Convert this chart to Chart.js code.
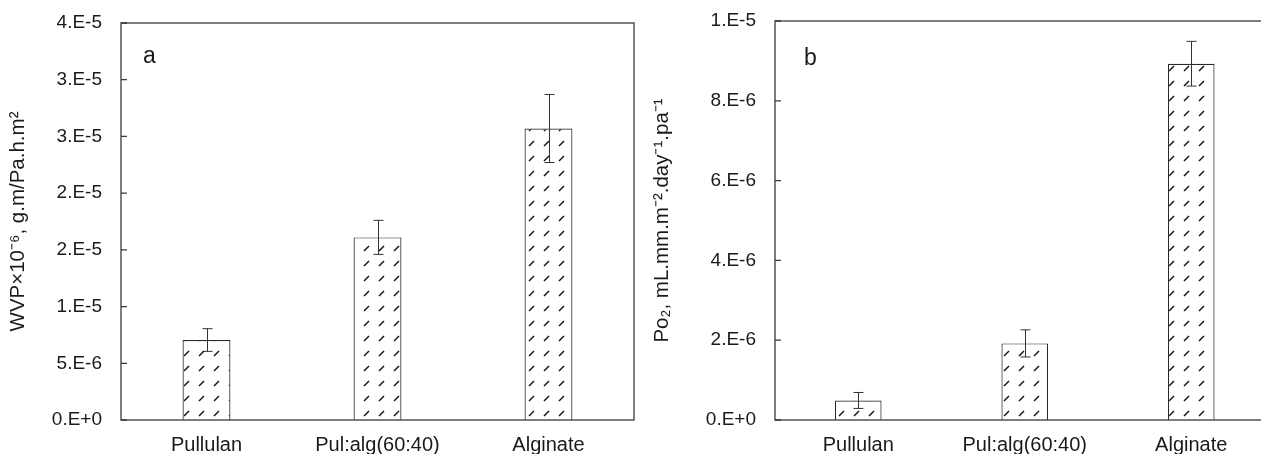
<!DOCTYPE html>
<html>
<head>
<meta charset="utf-8">
<script src="https://cdn.jsdelivr.net/npm/chart.js@4.4.1/dist/chart.umd.min.js"></script>
<style>
  html, body { margin: 0; padding: 0; background: #fff; overflow: hidden; width: 1261px; height: 454px; }
  .panel { position: absolute; top: 0; height: 454px; }
  #wrapA { left: 0; width: 640px; }
  #wrapB { left: 640px; width: 640px; }
</style>
</head>
<body>
<div class="panel" id="wrapA"><canvas id="chartA"></canvas></div>
<div class="panel" id="wrapB"><canvas id="chartB"></canvas></div>
<script>
// data
const films = ["Pullulan", "Pul:alg(60:40)", "Alginate"];

// a: WVP
const wvp = [7.05e-6, 16.1e-6, 25.7e-6];
const wvpErr = [1.0e-6, 1.5e-6, 3.0e-6];
const wvpTickLabels = ["0.E+0", "5.E-6", "1.E-5", "2.E-5", "2.E-5", "3.E-5", "3.E-5", "4.E-5"];

// b: Po2
const po2 = [0.49e-6, 1.92e-6, 8.93e-6];
const po2Err = [0.2e-6, 0.34e-6, 0.56e-6];
const po2TickLabels = ["0.E+0", "2.E-6", "4.E-6", "6.E-6", "8.E-6", "1.E-5"];

Chart.defaults.font.family = "'Liberation Sans', Arial, sans-serif";
Chart.defaults.color = "#1a1a1a";

// hatch tile: small dashes "/"
function makeHatch(ctx) {
  const tile = document.createElement("canvas");
  tile.width = 15;
  tile.height = 15;
  const t = tile.getContext("2d");
  t.fillStyle = "#fff";
  t.fillRect(0, 0, 15, 15);
  t.strokeStyle = "#111";
  t.lineWidth = 1.4;
  t.beginPath();
  t.moveTo(4, 11);
  t.lineTo(9, 6);
  t.stroke();
  return ctx.createPattern(tile, "repeat");
}

// box, inside ticks, error bars, panel letter
function extrasPlugin(errs, letter, letterX, letterY) {
  return {
    id: "extras" + letter,
    afterDatasetsDraw(chart) {
      const ctx = chart.ctx;
      const area = chart.chartArea;
      const ys = chart.scales.y;
      const meta = chart.getDatasetMeta(0);
      const vals = chart.data.datasets[0].data;
      ctx.save();
      // error bars
      ctx.strokeStyle = "#333";
      ctx.lineWidth = 1;
      meta.data.forEach((bar, i) => {
        const x = Math.round(bar.x) + 0.5;
        const yt = ys.getPixelForValue(vals[i] + errs[i]);
        const yb = ys.getPixelForValue(vals[i] - errs[i]);
        ctx.beginPath();
        ctx.moveTo(x, yt);
        ctx.lineTo(x, yb);
        ctx.moveTo(x - 5, yt);
        ctx.lineTo(x + 5, yt);
        ctx.moveTo(x - 5, yb);
        ctx.lineTo(x + 5, yb);
        ctx.stroke();
      });
      // plot box
      ctx.strokeStyle = "#3a3a3a";
      ctx.lineWidth = 1.3;
      ctx.strokeRect(area.left, area.top, area.right - area.left, area.bottom - area.top);
      // inside ticks
      ctx.beginPath();
      ys.ticks.forEach((tk, i) => {
        const y = ys.getPixelForTick(i);
        ctx.moveTo(area.left, y);
        ctx.lineTo(area.left + 6, y);
      });
      ctx.stroke();
      // letter
      ctx.fillStyle = "#1a1a1a";
      ctx.font = "23px 'Liberation Sans', Arial, sans-serif";
      ctx.textAlign = "left";
      ctx.textBaseline = "alphabetic";
      ctx.fillText(letter, letterX, letterY);
      ctx.restore();
    },
  };
}

function makeConfig(ctx, values, errs, yMax, yStep, tickLabels, yTitle, pad, axisWidth, letter, lx, ly) {
  return {
    type: "bar",
    data: {
      labels: films,
      datasets: [
        {
          data: values,
          backgroundColor: makeHatch(ctx),
          borderColor: "#2a2a2a",
          borderWidth: 1.2,
          categoryPercentage: 1,
          barPercentage: 0.28,
        },
      ],
    },
    options: {
      responsive: true,
      maintainAspectRatio: false,
      animation: false,
      events: [],
      layout: { padding: pad },
      plugins: {
        legend: { display: false },
        tooltip: { enabled: false },
      },
      scales: {
        x: {
          grid: { display: false, drawTicks: false },
          border: { display: false },
          ticks: { font: { size: 20 }, padding: 13, maxRotation: 0 },
          afterFit: (s) => {
            s.height = 34;
            s.paddingLeft = 0;
            s.paddingRight = 0;
          },
        },
        y: {
          min: 0,
          max: yMax,
          grid: { display: false, drawTicks: false },
          border: { display: false },
          ticks: {
            stepSize: yStep,
            font: { size: 19 },
            padding: 19,
            callback: (v, i) => tickLabels[i],
          },
          title: { display: true, text: yTitle, font: { size: 20.5 }, padding: 0 },
          afterFit: (s) => {
            s.width = axisWidth;
            s.paddingTop = 0;
            s.paddingBottom = 0;
          },
        },
      },
    },
    plugins: [extrasPlugin(errs, letter, lx, ly)],
  };
}

const ctxA = document.getElementById("chartA").getContext("2d");
const ctxB = document.getElementById("chartB").getContext("2d");

new Chart(ctxA, makeConfig(ctxA, wvp, wvpErr, 3.5e-5, 5e-6, wvpTickLabels,
  "WVP\u00d710\u207b\u2076, g.m/Pa.h.m\u00b2",
  { left: 6, top: 23, right: 6, bottom: 0 }, 115, "a", 143, 63));

new Chart(ctxB, makeConfig(ctxB, po2, po2Err, 1e-5, 2e-6, po2TickLabels,
  "Po\u2082, mL.mm.m\u207b\u00b2.day\u207b\u00b9.pa\u207b\u00b9",
  { left: 10, top: 21, right: 5.5, bottom: 0 }, 125, "b", 164, 65));
</script>
</body>
</html>
